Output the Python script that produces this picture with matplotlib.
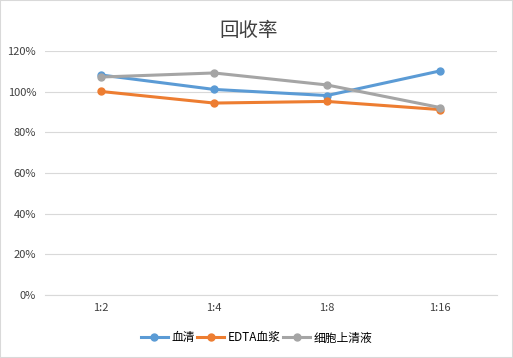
import matplotlib.pyplot as plt
from matplotlib.ticker import PercentFormatter
from matplotlib.patches import Rectangle

plt.rcParams['font.family'] = ['Noto Sans CJK SC', 'DejaVu Sans']

categories = ['1:2', '1:4', '1:8', '1:16']
serum = [108.2, 101.1, 98.1, 110.2]
edta_plasma = [100.1, 94.4, 95.2, 91.2]
supernatant = [107.2, 109.2, 103.3, 92.2]
series_names = ['血清', 'EDTA血浆', '细胞上清液']
colors = ['#5B9BD5', '#ED7D31', '#A5A5A5']

fig = plt.figure(figsize=(5.13, 3.58), dpi=100)
ax = fig.add_axes([44.5/513, 63/358, 452/513, 244/358])

x = range(len(categories))
for vals, name, c in zip([serum, edta_plasma, supernatant], series_names, colors):
    ax.plot(x, vals, color=c, lw=2.2, marker='o', ms=5, label=name)

ax.set_xlim(-0.5, len(categories) - 0.5)
ax.set_ylim(0, 120)
ax.set_yticks(range(0, 121, 20))
ax.yaxis.set_major_formatter(PercentFormatter(decimals=0))
ax.set_xticks(list(x))
ax.set_xticklabels(categories)
ax.grid(axis='y', color='#D9D9D9', lw=0.8)
ax.set_axisbelow(True)
for s in ['top', 'right', 'left']:
    ax.spines[s].set_visible(False)
ax.spines['bottom'].set_color('#D9D9D9')
ax.tick_params(length=0, labelsize=8, colors='#404040', pad=6)

fig.text(0.5 - 8/513, 1 - 30/358, '回收率', ha='center', va='center', fontsize=14, color='#404040')
fig.legend(loc='center', bbox_to_anchor=(0.5, 1 - 338/358), ncol=3, frameon=False,
           fontsize=8.5, handlelength=2.3, columnspacing=0.2, handletextpad=0.3)

fig.patches.append(Rectangle((0, 0), 1, 1, transform=fig.transFigure, fill=False,
                             edgecolor='#D9D9D9', lw=1.5))
plt.savefig('out.png', dpi=100)
